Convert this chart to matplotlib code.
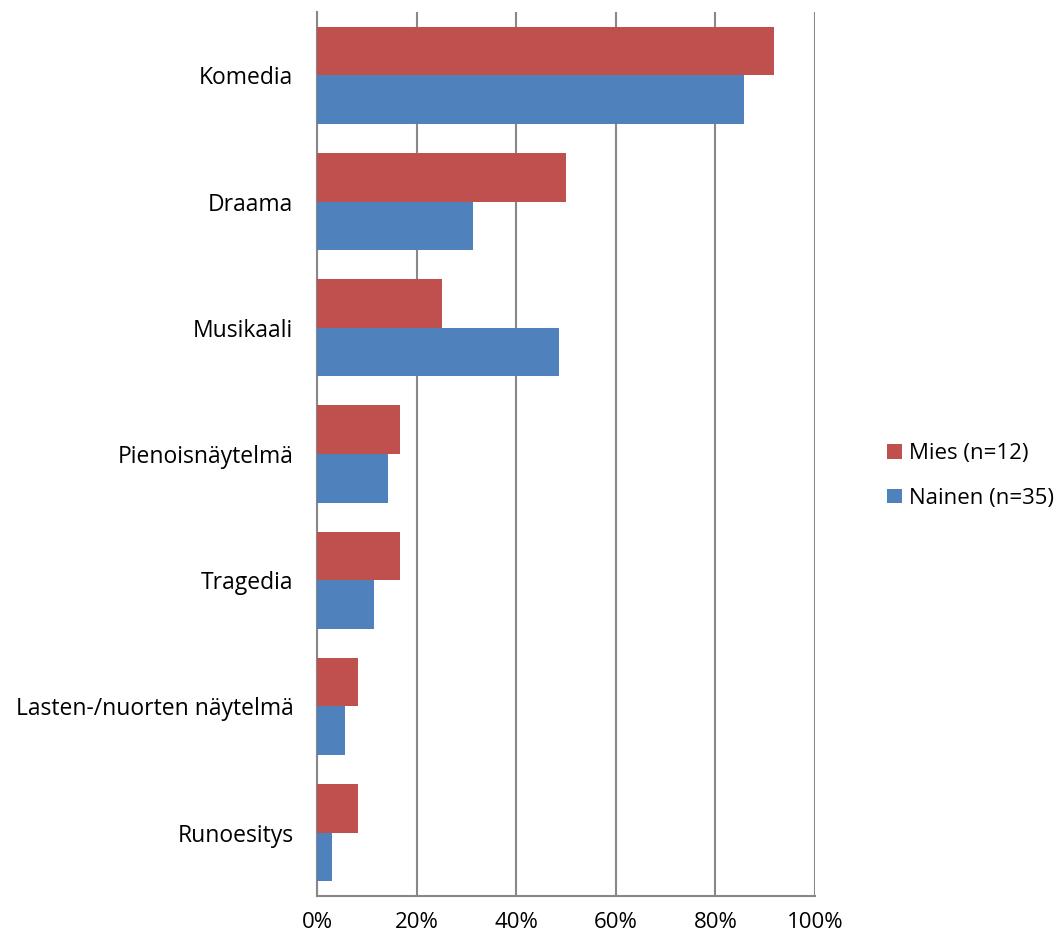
import matplotlib.pyplot as plt
import numpy as np

plt.rcParams['font.family'] = ['Open Sans', 'DejaVu Sans']

categories = ["Komedia", "Draama", "Musikaali", "Pienoisnäytelmä", "Tragedia",
              "Lasten-/nuorten näytelmä", "Runoesitys"]
mies = [91.7, 50.0, 25.0, 16.7, 16.7, 8.3, 8.3]
nainen = [85.7, 31.4, 48.6, 14.3, 11.4, 5.7, 2.9]
series_labels = ["Mies (n=12)", "Nainen (n=35)"]
xticks = [0, 20, 40, 60, 80, 100]

fig = plt.figure(figsize=(10.64, 9.41), dpi=100)
ax = fig.add_axes([0.298, 0.048, 0.468, 0.939])

y = np.arange(len(categories))
h = 0.385
ax.barh(y - h / 2, mies, height=h, color="#C0504D", label=series_labels[0], zorder=3)
ax.barh(y + h / 2, nainen, height=h, color="#4F81BD", label=series_labels[1], zorder=3)

ax.set_ylim(len(categories) - 0.5, -0.5)
ax.set_xlim(0, 100)
ax.set_yticks(y)
ax.set_yticklabels(categories, fontsize=16.5)
ax.set_xticks(xticks)
ax.set_xticklabels([f"{v}%" for v in xticks], fontsize=16)
ax.tick_params(axis="y", length=0, pad=17)
ax.tick_params(axis="x", length=0, pad=12)
ax.grid(axis="x", color="#888888", linewidth=1.5, zorder=0)
for s in ["top", "right"]:
    ax.spines[s].set_visible(False)
for s in ["left", "bottom"]:
    ax.spines[s].set_color("#888888")
    ax.spines[s].set_linewidth(1.5)

fig.legend(loc="center left", bbox_to_anchor=(0.815, 0.494), frameon=False,
           fontsize=16, handlelength=0.65, handleheight=0.65, handletextpad=0.35,
           labelspacing=1.05)

fig.savefig("out.png", dpi=100)
